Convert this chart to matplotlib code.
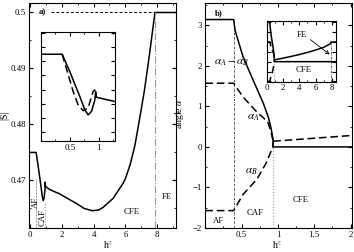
import numpy as np
import matplotlib
matplotlib.use("Agg")
import matplotlib.pyplot as plt
from matplotlib.ticker import MultipleLocator

plt.rcParams['font.family'] = ['Liberation Serif', 'DejaVu Serif']
plt.rcParams['mathtext.fontset'] = 'stix'
plt.rcParams['font.size'] = 6.3
plt.rcParams['xtick.direction'] = 'in'
plt.rcParams['ytick.direction'] = 'in'
plt.rcParams['xtick.top'] = True
plt.rcParams['ytick.right'] = True
plt.rcParams['xtick.major.size'] = 3
plt.rcParams['ytick.major.size'] = 3
plt.rcParams['xtick.minor.size'] = 1.5
plt.rcParams['ytick.minor.size'] = 1.5
plt.rcParams['axes.linewidth'] = 0.8

PI = np.pi

# ---- panel a) |S| vs h^z ----
h_s = [0.0, 0.367, 0.50, 0.672, 0.759, 0.816, 0.874, 0.931, 0.945, 0.96, 1.276,
       1.85, 2.4, 2.9, 3.4, 3.9, 4.3, 4.6, 5.23, 5.86, 6.0, 6.3, 6.6, 6.9, 7.2,
       7.5, 7.87, 9.2]
s_solid = [0.4750, 0.4750, 0.4725, 0.4690, 0.4671, 0.4664, 0.4669, 0.4685, 0.4697,
           0.4689, 0.4683, 0.4676, 0.4667, 0.4659, 0.4650, 0.4646, 0.4647, 0.4652,
           0.4668, 0.4695, 0.4703, 0.4728, 0.4762, 0.4810, 0.4860, 0.4920, 0.5000,
           0.5000]
h_d = [0.367, 0.557, 0.643, 0.73, 0.816, 0.90, 0.94]
s_dash = [0.4750, 0.4697, 0.4678, 0.4670, 0.4674, 0.4697, 0.4700]

# ---- panel b) angles vs h^z ----
h_diff = [0.0, 0.39, 0.41, 0.52, 0.66, 0.80, 0.87, 0.91, 0.935, 0.93, 9.0]
a_diff = [PI, PI, 2.87, 2.22, 1.64, 1.07, 0.72, 0.42, 0.15, 0.0, 0.0]
h_A = [0.0, 0.39, 0.52, 0.71, 0.86, 0.90, 0.935]
a_A = [PI / 2, PI / 2, 1.23, 0.86, 0.62, 0.40, 0.14]
h_B = [0.0, 0.39, 0.52, 0.71, 0.84, 0.93, 0.935]
a_B = [-PI / 2, -PI / 2, -1.17, -0.80, -0.39, 0.0, 0.14]
h_cfe = [0.935, 2.0, 3.0, 4.0, 5.0, 6.0, 7.0, 7.87, 7.87, 9.0]
a_cfe = [0.14, 0.28, 0.42, 0.57, 0.74, 0.93, 1.15, 1.45, PI / 2, PI / 2]

h_af, h_caf, h_fe = 0.39, 0.93, 7.87

fig = plt.figure(figsize=(3.54, 2.52), dpi=100)
ax1 = fig.add_axes([0.0833, 0.0952, 0.414, 0.893])
ax2 = fig.add_axes([0.580, 0.0952, 0.4144, 0.893])

lw = 1.1
dash = (0, (5, 2.5))
fs = 6.3

# panel a
ax1.plot(h_s, s_solid, 'k-', lw=lw)
ax1.plot([1.33, h_fe], [0.5, 0.5], 'k', ls=(0, (3, 2)), lw=0.7)
ax1.plot([h_af, h_af], [0.4615, 0.4705], color='0.35', ls=(0, (2, 1, 0.5, 1)), lw=0.5)
ax1.plot([h_caf, h_caf], [0.4615, 0.4662], color='0.6', ls=':', lw=0.8)
ax1.plot([h_fe, h_fe], [0.4615, 0.5], color='0.6', ls='-.', lw=0.8)
ax1.set_xlim(-0.05, 9.2)
ax1.set_ylim(0.4615, 0.5017)
ax1.xaxis.set_major_locator(MultipleLocator(2))
ax1.xaxis.set_minor_locator(MultipleLocator(1))
ax1.yaxis.set_major_locator(MultipleLocator(0.01))
ax1.yaxis.set_minor_locator(MultipleLocator(0.005))
ax1.yaxis.set_major_formatter(plt.FuncFormatter(lambda v, p: ('%.2f' % v).rstrip('0')))
ax1.tick_params(labelsize=fs, pad=2.5)
ax1.set_xlabel(r'h$^z$', fontsize=7)
ax1.xaxis.set_label_coords(0.536, -0.05)
ax1.set_ylabel('|S|', fontsize=7)
ax1.yaxis.set_label_coords(-0.14, 0.5)
ax1.text(0.06, 0.5, 'a)', fontsize=fs, fontweight='bold', va='center', ha='left',
         transform=ax1.get_yaxis_transform())
ax1.text(0.33, 0.4660, 'AF', rotation=90, fontsize=fs, ha='center', va='center')
ax1.text(0.78, 0.4634, 'CAF', rotation=90, fontsize=fs, ha='center', va='center')
ax1.text(6.4, 0.4643, 'CFE', fontsize=fs, ha='center', va='center')
ax1.text(8.6, 0.4670, 'FE', fontsize=fs, ha='center', va='center')

# inset a
ins1 = fig.add_axes([0.1158, 0.4405, 0.209, 0.431])
ins1.plot(h_s, s_solid, 'k-', lw=lw)
ins1.plot(h_d, s_dash, 'k', ls=dash, lw=lw)
ins1.set_xlim(0.0, 1.28)
ins1.set_ylim(0.4627, 0.4781)
ins1.xaxis.set_major_locator(MultipleLocator(0.5))
ins1.xaxis.set_minor_locator(MultipleLocator(0.25))
ins1.yaxis.set_major_locator(MultipleLocator(0.002))
ins1.set_yticklabels([])
ins1.xaxis.set_major_formatter(plt.FuncFormatter(lambda v, p: '%g' % v if v > 0 else ''))
ins1.tick_params(labelsize=fs, pad=2)

# panel b
ax2.plot(h_diff, a_diff, 'k-', lw=lw)
ax2.plot(h_A, a_A, 'k', ls=dash, lw=lw)
ax2.plot(h_B, a_B, 'k', ls=dash, lw=lw)
ax2.plot(h_cfe, a_cfe, 'k', ls=dash, lw=lw)
ax2.plot([h_af, h_af], [-2, PI], color='k', ls=(0, (3, 1.5, 0.8, 1.5)), lw=0.5)
ax2.plot([h_caf, h_caf], [-2, 0], color='0.6', ls=':', lw=0.8)
ax2.set_xlim(0, 2.02)
ax2.set_ylim(-2, 3.55)
ax2.xaxis.set_major_locator(MultipleLocator(0.5))
ax2.xaxis.set_minor_locator(MultipleLocator(0.25))
ax2.yaxis.set_major_locator(MultipleLocator(1))
ax2.yaxis.set_minor_locator(MultipleLocator(0.5))
ax2.xaxis.set_major_formatter(plt.FuncFormatter(lambda v, p: '%g' % v if v > 0 else ''))
ax2.tick_params(labelsize=fs, pad=2.5)
ax2.set_xlabel(r'h$^z$', fontsize=7)
ax2.xaxis.set_label_coords(0.489, -0.05)
ax2.set_ylabel(r'angle $\alpha$', fontsize=7)
ax2.yaxis.set_label_coords(-0.135, 0.51)
ax2.text(0.13, 3.3, 'b)', fontsize=fs, fontweight='bold', va='center')
ax2.text(0.36, 2.08, r'$\alpha_A - \alpha_B$', fontsize=8, ha='center', va='center')
ax2.text(0.66, 0.72, r'$\alpha_A$', fontsize=8, ha='center', va='center')
ax2.text(0.64, -0.62, r'$\alpha_B$', fontsize=8, ha='center', va='center')
ax2.text(0.18, -1.82, 'AF', fontsize=fs, ha='center', va='center')
ax2.text(0.68, -1.64, 'CAF', fontsize=fs, ha='center', va='center')
ax2.text(1.32, -1.31, 'CFE', fontsize=fs, ha='center', va='center')

# inset b
ins2 = fig.add_axes([0.7534, 0.6758, 0.1958, 0.2409])
ins2.plot(h_diff, a_diff, 'k-', lw=lw)
ins2.plot(h_A, a_A, 'k', ls=dash, lw=lw)
ins2.plot(h_B, a_B, 'k', ls=dash, lw=lw)
ins2.plot(h_cfe, a_cfe, 'k-', lw=lw)
ins2.plot([h_caf, h_caf], [-1.6, 0], color='0.6', ls=':', lw=0.8)
ins2.plot([h_fe, h_fe], [-1.6, 1.45], color='k', ls=(0, (3, 1.5, 0.8, 1.5)), lw=0.5)
ins2.set_xlim(0, 8.5)
ins2.set_ylim(-1.6, 3.25)
ins2.xaxis.set_major_locator(MultipleLocator(2))
ins2.xaxis.set_minor_locator(MultipleLocator(1))
ins2.yaxis.set_major_locator(MultipleLocator(PI / 4))
ins2.set_yticklabels([])
ins2.tick_params(labelsize=fs, pad=2)
ins2.text(0.5, 0.77, 'FE', fontsize=fs, ha='center', va='center', transform=ins2.transAxes)
ins2.annotate('', xy=(0.94, 0.42), xytext=(0.6, 0.72), xycoords='axes fraction',
              arrowprops=dict(arrowstyle='->', lw=0.6, color='k'))
ins2.text(0.53, 0.19, 'CFE', fontsize=fs, ha='center', va='center', transform=ins2.transAxes)

fig.savefig('out.png', dpi=100)
